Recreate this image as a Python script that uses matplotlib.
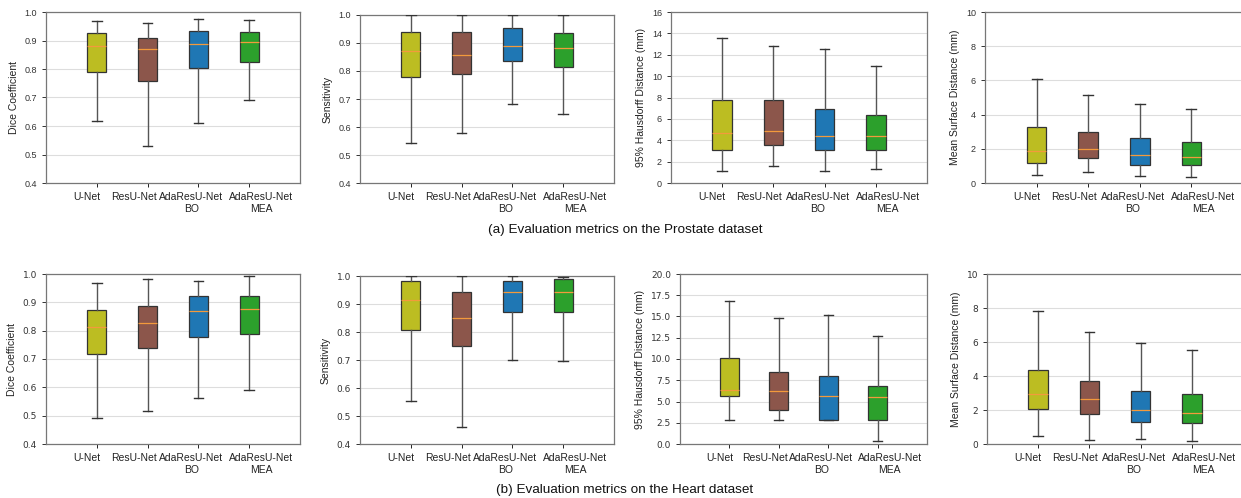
import matplotlib
matplotlib.use("Agg")
import matplotlib.pyplot as plt
import matplotlib.transforms as mtransforms

plt.rcParams['font.family'] = ['Liberation Sans', 'DejaVu Sans']

models = ["U-Net", "ResU-Net", "AdaResU-Net\nBO", "AdaResU-Net\nMEA"]
colors = ["#bcbd22", "#8c564b", "#1f77b4", "#2ca02c"]

# each entry: (whislo, q1, median, q3, whishi)
prostate_dice = [(0.616, 0.791, 0.881, 0.927, 0.968),
                 (0.530, 0.758, 0.871, 0.910, 0.961),
                 (0.611, 0.805, 0.889, 0.933, 0.977),
                 (0.692, 0.825, 0.895, 0.931, 0.971)]
prostate_sens = [(0.544, 0.779, 0.871, 0.938, 1.0),
                 (0.579, 0.788, 0.856, 0.938, 1.0),
                 (0.683, 0.835, 0.890, 0.954, 1.0),
                 (0.645, 0.814, 0.883, 0.935, 1.0)]
prostate_hd95 = [(1.12, 3.12, 4.71, 7.80, 13.6),
                 (1.56, 3.52, 4.90, 7.80, 12.82),
                 (1.12, 3.12, 4.43, 6.89, 12.57),
                 (1.28, 3.12, 4.43, 6.39, 10.98)]
prostate_msd = [(0.45, 1.19, 1.85, 3.26, 6.10),
                (0.64, 1.44, 1.99, 2.98, 5.15),
                (0.41, 1.07, 1.62, 2.61, 4.64),
                (0.35, 1.07, 1.50, 2.38, 4.31)]

heart_dice = [(0.492, 0.719, 0.813, 0.873, 0.969),
              (0.515, 0.738, 0.826, 0.888, 0.982),
              (0.563, 0.776, 0.871, 0.921, 0.977),
              (0.590, 0.789, 0.877, 0.921, 0.992)]
heart_sens = [(0.554, 0.808, 0.916, 0.982, 1.0),
              (0.462, 0.751, 0.851, 0.942, 1.0),
              (0.700, 0.870, 0.943, 0.982, 1.0),
              (0.697, 0.870, 0.944, 0.989, 0.996)]
heart_hd95 = [(2.82, 5.64, 6.30, 10.14, 16.87),
              (2.82, 4.03, 6.22, 8.45, 14.79),
              (2.82, 2.82, 5.68, 7.95, 15.15),
              (0.31, 2.82, 5.56, 6.77, 12.68)]
heart_msd = [(0.45, 2.05, 2.92, 4.38, 7.83),
             (0.25, 1.76, 2.64, 3.72, 6.56),
             (0.31, 1.27, 1.98, 3.09, 5.93),
             (0.16, 1.21, 1.82, 2.92, 5.54)]

ylabels = ["Dice Coefficient", "Sensitivity", "95% Hausdorff Distance (mm)",
           "Mean Surface Distance (mm)"]
prostate_ylims = [(0.4, 1.0), (0.4, 1.0), (0, 16), (0, 10)]
heart_ylims = [(0.4, 1.0), (0.4, 1.0), (0, 20), (0, 10)]
captions = ["(a) Evaluation metrics on the Prostate dataset",
            "(b) Evaluation metrics on the Heart dataset"]

W, H = 1241, 498
fig = plt.figure(figsize=(W / 100, H / 100), dpi=100)

# pixel boxes (left, top, right, bottom)
row1 = [(46, 12, 300, 183), (360, 15, 614, 183), (671, 12, 927, 183), (985, 12, 1243, 183)]
row2 = [(46, 274, 300, 444), (360, 276, 614, 444), (680, 274, 927, 444), (987, 274, 1243, 444)]

label_dx = [-10, -14, -7, 12]


def make_axes(box):
    l, t, r, b = box
    return fig.add_axes([l / W, (H - b) / H, (r - l) / W, (b - t) / H])


def draw(ax, data, ylim, ylabel, tickfont):
    stats = []
    for (lo, q1, med, q3, hi), name in zip(data, models):
        stats.append(dict(whislo=lo, q1=q1, med=med, q3=q3, whishi=hi,
                          fliers=[], label=name))
    bp = ax.bxp(stats, positions=[1, 2, 3, 4], widths=0.38, capwidths=0.19,
                patch_artist=True, showfliers=False,
                boxprops=dict(edgecolor="#333333", linewidth=0.9),
                whiskerprops=dict(color="#555555", linewidth=1.0),
                capprops=dict(color="#333333", linewidth=1.0),
                medianprops=dict(color="#f39a3c", linewidth=0.9))
    for patch, c in zip(bp["boxes"], colors):
        patch.set_facecolor(c)
    for ln in bp["whiskers"] + bp["caps"] + bp["medians"] + bp["boxes"]:
        ln.set_zorder(3)
    ax.set_xlim(0, 5)
    ax.set_ylim(*ylim)
    ax.set_ylabel(ylabel, fontsize=7.5, color="#222222")
    ax.yaxis.grid(True, color="#dddddd", linewidth=0.8)
    ax.set_axisbelow(True)
    for s in ax.spines.values():
        s.set_color("#777777")
        s.set_linewidth(0.9)
    ax.tick_params(axis="y", labelsize=6.5, colors="#333333", length=3, width=0.7)
    ax.tick_params(axis="x", labelsize=7.5, colors="#222222", length=3, width=0.7)
    for lab in ax.get_yticklabels():
        lab.set_fontfamily(tickfont)
    ax.set_xticks([1, 2, 3, 4])
    ax.set_xticklabels(models, fontsize=7.5, color="#222222", linespacing=1.2)
    for lab, dx in zip(ax.get_xticklabels(), label_dx):
        lab.set_transform(lab.get_transform() +
                          mtransforms.ScaledTranslation(dx / 100, 0, fig.dpi_scale_trans))


prostate = [prostate_dice, prostate_sens, prostate_hd95, prostate_msd]
heart = [heart_dice, heart_sens, heart_hd95, heart_msd]

for box, d, yl, lab in zip(row1, prostate, prostate_ylims, ylabels):
    draw(make_axes(box), d, yl, lab, ["Liberation Sans", "DejaVu Sans"])
for box, d, yl, lab in zip(row2, heart, heart_ylims, ylabels):
    draw(make_axes(box), d, yl, lab, ["DejaVu Sans"])

fig.text(625 / W, 1 - 230 / H, captions[0], ha="center", va="center",
         fontsize=9.7, color="#111111")
fig.text(625 / W, 1 - 490 / H, captions[1], ha="center", va="center",
         fontsize=9.7, color="#111111")

fig.savefig("out.png", dpi=100)
